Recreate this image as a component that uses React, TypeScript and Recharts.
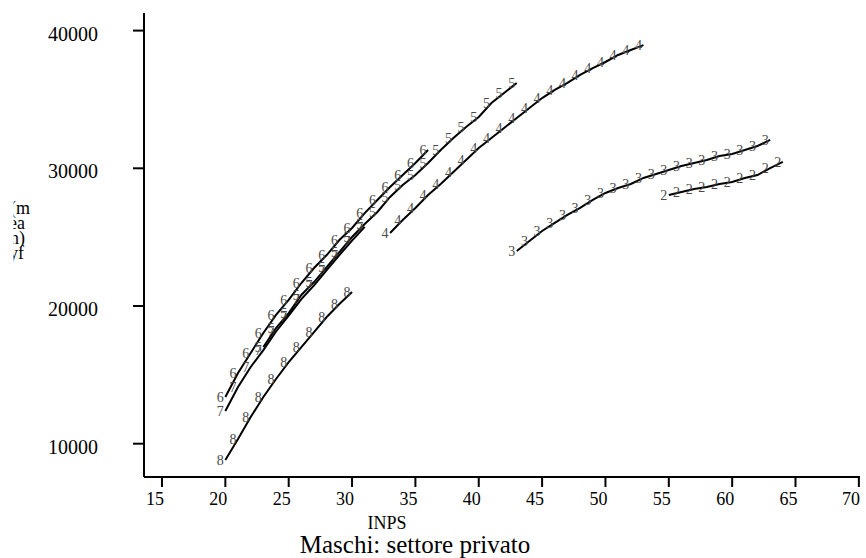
import { LineChart, Line, XAxis, YAxis } from "recharts";

// age (INPS) and mean earnings per cohort
const ages2 = [55, 56, 57, 58, 59, 60, 61, 62, 63, 64];
const earn2 = [28060, 28280, 28500, 28640, 28860, 29000, 29300, 29510, 30020, 30460];

const ages3 = [43, 44, 45, 46, 47, 48, 49, 50, 51, 52, 53, 54, 55, 56, 57, 58, 59, 60, 61, 62, 63];
const earn3 = [23990, 24720, 25450, 26030, 26610, 27120, 27700, 28210, 28570, 28860, 29300, 29590, 29880, 30170, 30390, 30600, 30890, 31040, 31330, 31620, 32060];

const ages4 = [33, 34, 35, 36, 37, 38, 39, 40, 41, 42, 43, 44, 45, 46, 47, 48, 49, 50, 51, 52, 53];
const earn4 = [25300, 26250, 27120, 28060, 28860, 29730, 30600, 31470, 32200, 32930, 33650, 34380, 35100, 35690, 36200, 36780, 37280, 37720, 38230, 38590, 38950];

const ages5 = [23, 24, 25, 26, 27, 28, 29, 30, 31, 32, 33, 34, 35, 36, 37, 38, 39, 40, 41, 42, 43];
const earn5 = [17020, 18400, 19490, 20800, 21740, 22830, 23920, 25010, 25960, 26830, 27920, 28790, 29510, 30390, 31330, 32200, 33000, 33730, 34740, 35470, 36200];

const ages6 = [20, 21, 22, 23, 24, 25, 26, 27, 28, 29, 30, 31, 32, 33, 34, 35, 36];
const earn6 = [13390, 15135, 16590, 18040, 19350, 20440, 21670, 22760, 23700, 24790, 25665, 26750, 27700, 28640, 29510, 30385, 31330];

const ages7 = [20, 21, 22, 23, 24, 25, 26, 27, 28, 29, 30, 31];
const earn7 = [12375, 14120, 15570, 16800, 18150, 19300, 20500, 21500, 22600, 23700, 24750, 25750];

const ages8 = [20, 21, 22, 23, 24, 25, 26, 27, 28, 29, 30];
const earn8 = [8820, 10340, 11940, 13390, 14700, 15930, 17020, 18110, 19200, 20150, 21020];

const xTicks = [15, 20, 25, 30, 35, 40, 45, 50, 55, 60, 65, 70];
const yTicks = [10000, 20000, 30000, 40000];
// what is left of the (cut off) y-axis title
const yLabelBits = ["(m", "ea", "n)", "yf"];
const yLabelStart = [10, 9, 10, 9];

const toRows = (ages: number[], earn: number[]) =>
    ages.map((age, i) => ({ age, earn: earn[i] }));

const series = [
    { id: "2", data: toRows(ages2, earn2) },
    { id: "3", data: toRows(ages3, earn3) },
    { id: "4", data: toRows(ages4, earn4) },
    { id: "5", data: toRows(ages5, earn5) },
    { id: "6", data: toRows(ages6, earn6) },
    { id: "7", data: toRows(ages7, earn7) },
    { id: "8", data: toRows(ages8, earn8) },
];

const serif = "'Liberation Serif', 'Times New Roman', serif";

const cohortLabel = (digit: string) => (p: any) => (
    <text
        x={p.x - 5}
        y={p.y}
        dy={5}
        textAnchor="middle"
        fontSize={14}
        fill="#4a4a4a"
        fontFamily={serif}
    >
        {digit}
    </text>
);

const XTick = (p: any) => (
    <text x={p.x + 2} y={505} textAnchor="end" fontSize={18} fill="#000" fontFamily={serif}>
        {p.payload.value}
    </text>
);

const YTick = (p: any) => (
    <text x={98} y={p.y + 10} textAnchor="end" fontSize={20} fill="#000" fontFamily={serif}>
        {p.payload.value}
    </text>
);

export default function App() {
    return (
        <div style={{ position: "absolute", left: 0, top: 0, width: 866, height: 558, background: "#fff" }}>
            <LineChart
                width={866}
                height={558}
                margin={{ top: 13, right: 6, bottom: 0, left: 0 }}
            >
                <defs>
                    <clipPath id="ylab-clip">
                        <rect x={13.5} y={0} width={60} height={558} />
                    </clipPath>
                </defs>
                <XAxis
                    type="number"
                    dataKey="age"
                    domain={[13.58, 70.09]}
                    ticks={xTicks}
                    allowDataOverflow
                    height={81}
                    tickSize={10}
                    tick={<XTick />}
                    axisLine={{ stroke: "#000", strokeWidth: 2 }}
                    tickLine={{ stroke: "#000", strokeWidth: 2 }}
                />
                <YAxis
                    type="number"
                    dataKey="earn"
                    domain={[7582, 41278]}
                    ticks={yTicks}
                    allowDataOverflow
                    width={144}
                    tickSize={11}
                    tick={<YTick />}
                    axisLine={{ stroke: "#000", strokeWidth: 2 }}
                    tickLine={{ stroke: "#000", strokeWidth: 2 }}
                />
                {series.map((s) => (
                    <Line
                        key={s.id}
                        data={s.data}
                        dataKey="earn"
                        type="linear"
                        stroke="#000"
                        strokeWidth={2}
                        dot={false}
                        label={cohortLabel(s.id)}
                        isAnimationActive={false}
                    />
                ))}
                <g clipPath="url(#ylab-clip)" fontFamily={serif} fontSize={18} fill="#000">
                    {yLabelBits.map((t, i) => (
                        <text key={t} x={yLabelStart[i]} y={214 + i * 15}>
                            {t}
                        </text>
                    ))}
                </g>
                <text x={387} y={529} textAnchor="middle" fontSize={18} fontFamily={serif} fill="#000">
                    INPS
                </text>
                <text x={415} y={553} textAnchor="middle" fontSize={25} fontFamily={serif} fill="#000">
                    Maschi: settore privato
                </text>
            </LineChart>
        </div>
    );
}
